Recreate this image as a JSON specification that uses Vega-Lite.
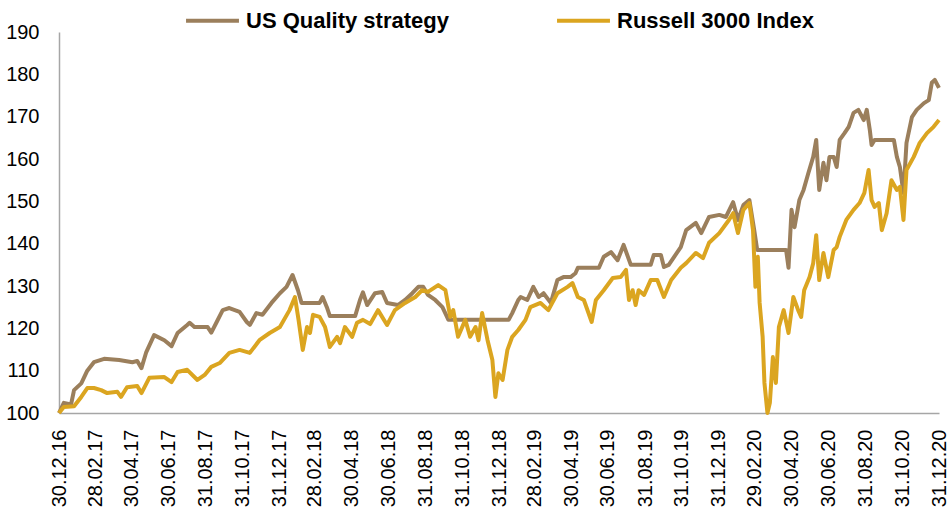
{
  "$schema": "https://vega.github.io/schema/vega-lite/v6.json",
  "width": 880,
  "height": 381,
  "autosize": {"type": "none"},
  "padding": {"left": 59, "top": 32, "right": 8, "bottom": 107},
  "background": "white",
  "config": {"view": {"stroke": null}},
  "datasets": {
    "q": [
      {"date":"2016-12-30","value":100},{"date":"2017-01-07","value":102.4},{"date":"2017-01-19","value":102.0},{"date":"2017-01-24","value":105.4},{"date":"2017-02-05","value":107},{"date":"2017-02-15","value":110},{"date":"2017-02-26","value":112},{"date":"2017-03-15","value":112.8},{"date":"2017-04-09","value":112.5},{"date":"2017-05-01","value":112},{"date":"2017-05-09","value":112.3},{"date":"2017-05-16","value":110.6},{"date":"2017-05-24","value":114.4},{"date":"2017-06-06","value":118.4},{"date":"2017-06-23","value":117.2},{"date":"2017-07-05","value":115.8},{"date":"2017-07-15","value":118.9},{"date":"2017-07-31","value":120.8},{"date":"2017-08-04","value":121.3},{"date":"2017-08-12","value":120.3},{"date":"2017-09-03","value":120.3},{"date":"2017-09-09","value":119},{"date":"2017-09-18","value":121.5},{"date":"2017-09-28","value":124.3},{"date":"2017-10-09","value":124.8},{"date":"2017-10-26","value":123.9},{"date":"2017-11-07","value":121.5},{"date":"2017-11-12","value":120.8},{"date":"2017-11-23","value":123.6},{"date":"2017-12-03","value":123.2},{"date":"2017-12-18","value":126},{"date":"2018-01-01","value":128.3},{"date":"2018-01-12","value":129.8},{"date":"2018-01-22","value":132.6},{"date":"2018-01-31","value":129},{"date":"2018-02-06","value":126},{"date":"2018-03-08","value":126},{"date":"2018-03-13","value":127.4},{"date":"2018-03-20","value":125},{"date":"2018-03-25","value":122.9},{"date":"2018-05-06","value":122.9},{"date":"2018-05-14","value":126.7},{"date":"2018-05-19","value":128.5},{"date":"2018-05-26","value":125.5},{"date":"2018-06-08","value":128.3},{"date":"2018-06-20","value":128.6},{"date":"2018-06-28","value":126},{"date":"2018-07-16","value":125.5},{"date":"2018-07-28","value":126.7},{"date":"2018-08-09","value":128.3},{"date":"2018-08-19","value":129.8},{"date":"2018-08-27","value":129.8},{"date":"2018-09-04","value":127.9},{"date":"2018-09-16","value":126.7},{"date":"2018-09-28","value":125},{"date":"2018-10-08","value":122},{"date":"2019-01-16","value":122},{"date":"2019-01-22","value":123.6},{"date":"2019-02-01","value":126.7},{"date":"2019-02-05","value":127.4},{"date":"2019-02-16","value":126.7},{"date":"2019-02-26","value":129.8},{"date":"2019-03-07","value":127.4},{"date":"2019-03-15","value":128.3},{"date":"2019-03-27","value":126},{"date":"2019-04-07","value":131.4},{"date":"2019-04-17","value":132.1},{"date":"2019-04-29","value":132.1},{"date":"2019-05-07","value":133},{"date":"2019-05-11","value":134.3},{"date":"2019-06-15","value":134.3},{"date":"2019-06-23","value":136.9},{"date":"2019-07-05","value":138},{"date":"2019-07-16","value":136.1},{"date":"2019-07-26","value":139.7},{"date":"2019-08-07","value":135},{"date":"2019-09-09","value":135},{"date":"2019-09-14","value":137.3},{"date":"2019-09-26","value":137.3},{"date":"2019-10-01","value":134.5},{"date":"2019-10-09","value":135},{"date":"2019-10-18","value":136.9},{"date":"2019-10-29","value":139.2},{"date":"2019-11-07","value":143.2},{"date":"2019-11-23","value":144.9},{"date":"2019-12-02","value":142.5},{"date":"2019-12-15","value":146.3},{"date":"2020-01-01","value":146.8},{"date":"2020-01-12","value":146.3},{"date":"2020-01-24","value":149.8},{"date":"2020-02-01","value":145.6},{"date":"2020-02-10","value":149.1},{"date":"2020-02-20","value":150.3},{"date":"2020-02-28","value":143.2},{"date":"2020-03-04","value":138.5},{"date":"2020-04-21","value":138.5},{"date":"2020-04-25","value":134.3},{"date":"2020-04-30","value":148},{"date":"2020-05-05","value":143.9},{"date":"2020-05-13","value":150.3},{"date":"2020-05-20","value":152.7},{"date":"2020-05-28","value":156.7},{"date":"2020-06-05","value":160.5},{"date":"2020-06-10","value":164.5},{"date":"2020-06-15","value":152.7},{"date":"2020-06-22","value":159.1},{"date":"2020-06-27","value":155},{"date":"2020-07-02","value":160.5},{"date":"2020-07-09","value":160.5},{"date":"2020-07-14","value":158.1},{"date":"2020-07-19","value":164.5},{"date":"2020-07-27","value":166.1},{"date":"2020-08-03","value":167.6},{"date":"2020-08-11","value":170.9},{"date":"2020-08-19","value":171.6},{"date":"2020-08-28","value":169.2},{"date":"2020-09-02","value":171.6},{"date":"2020-09-07","value":166.9},{"date":"2020-09-10","value":163.3},{"date":"2020-09-15","value":164.5},{"date":"2020-10-17","value":164.5},{"date":"2020-10-22","value":160.5},{"date":"2020-10-27","value":158.1},{"date":"2020-11-02","value":152},{"date":"2020-11-07","value":163.8},{"date":"2020-11-16","value":169.9},{"date":"2020-11-24","value":171.6},{"date":"2020-12-06","value":173.2},{"date":"2020-12-14","value":173.9},{"date":"2020-12-19","value":178},{"date":"2020-12-24","value":178.7},{"date":"2020-12-31","value":176.8}
    ],
    "r": [
      {"date":"2016-12-30","value":100},{"date":"2017-01-07","value":101.4},{"date":"2017-01-24","value":101.6},{"date":"2017-02-05","value":103.8},{"date":"2017-02-15","value":105.9},{"date":"2017-02-26","value":105.9},{"date":"2017-03-10","value":105.4},{"date":"2017-03-20","value":104.7},{"date":"2017-04-06","value":105},{"date":"2017-04-12","value":103.8},{"date":"2017-04-22","value":106.1},{"date":"2017-05-09","value":106.4},{"date":"2017-05-16","value":104.7},{"date":"2017-05-29","value":108.3},{"date":"2017-06-23","value":108.5},{"date":"2017-07-05","value":107.3},{"date":"2017-07-15","value":109.7},{"date":"2017-07-31","value":110.2},{"date":"2017-08-17","value":107.8},{"date":"2017-08-29","value":109},{"date":"2017-09-09","value":110.9},{"date":"2017-09-23","value":111.8},{"date":"2017-10-09","value":114.2},{"date":"2017-10-26","value":114.9},{"date":"2017-11-12","value":114.2},{"date":"2017-11-28","value":117.2},{"date":"2017-12-15","value":118.9},{"date":"2018-01-01","value":120.3},{"date":"2018-01-17","value":124.3},{"date":"2018-01-26","value":127.4},{"date":"2018-02-01","value":122},{"date":"2018-02-08","value":114.9},{"date":"2018-02-15","value":120.3},{"date":"2018-02-20","value":118.9},{"date":"2018-02-25","value":123.2},{"date":"2018-03-08","value":122.7},{"date":"2018-03-17","value":120.3},{"date":"2018-03-25","value":115.6},{"date":"2018-04-06","value":118},{"date":"2018-04-11","value":116.5},{"date":"2018-04-19","value":120.3},{"date":"2018-05-01","value":118},{"date":"2018-05-09","value":121.3},{"date":"2018-05-19","value":122},{"date":"2018-05-31","value":121},{"date":"2018-06-13","value":124.3},{"date":"2018-06-28","value":120.8},{"date":"2018-07-11","value":124.3},{"date":"2018-07-28","value":126},{"date":"2018-08-14","value":127.4},{"date":"2018-08-25","value":129},{"date":"2018-09-04","value":128.6},{"date":"2018-09-21","value":130.2},{"date":"2018-10-03","value":129},{"date":"2018-10-11","value":122.7},{"date":"2018-10-16","value":124.3},{"date":"2018-10-24","value":118},{"date":"2018-11-05","value":122},{"date":"2018-11-13","value":118},{"date":"2018-11-22","value":120.3},{"date":"2018-11-27","value":117.2},{"date":"2018-12-03","value":123.6},{"date":"2018-12-12","value":117.2},{"date":"2018-12-20","value":112.5},{"date":"2018-12-25","value":103.8},{"date":"2018-12-30","value":109.4},{"date":"2019-01-06","value":107.8},{"date":"2019-01-14","value":114.9},{"date":"2019-01-22","value":118},{"date":"2019-02-01","value":119.6},{"date":"2019-02-13","value":122},{"date":"2019-02-21","value":125},{"date":"2019-03-10","value":126},{"date":"2019-03-23","value":124.3},{"date":"2019-04-07","value":128.3},{"date":"2019-04-24","value":129.8},{"date":"2019-05-02","value":130.7},{"date":"2019-05-11","value":127.4},{"date":"2019-05-21","value":126.7},{"date":"2019-06-03","value":121.5},{"date":"2019-06-10","value":126.7},{"date":"2019-06-23","value":129},{"date":"2019-07-08","value":131.9},{"date":"2019-07-21","value":132.1},{"date":"2019-07-30","value":133.8},{"date":"2019-08-04","value":126.7},{"date":"2019-08-10","value":129},{"date":"2019-08-15","value":125.5},{"date":"2019-08-20","value":129},{"date":"2019-08-29","value":127.9},{"date":"2019-09-09","value":131.4},{"date":"2019-09-20","value":131.4},{"date":"2019-10-01","value":127.4},{"date":"2019-10-13","value":131.4},{"date":"2019-10-29","value":134.3},{"date":"2019-11-07","value":135.4},{"date":"2019-11-23","value":137.8},{"date":"2019-12-05","value":136.6},{"date":"2019-12-15","value":140.2},{"date":"2020-01-01","value":142.5},{"date":"2020-01-17","value":145.6},{"date":"2020-01-24","value":147.2},{"date":"2020-02-01","value":142.5},{"date":"2020-02-10","value":148},{"date":"2020-02-20","value":149.6},{"date":"2020-02-26","value":143.2},{"date":"2020-03-01","value":129.8},{"date":"2020-03-05","value":136.9},{"date":"2020-03-08","value":126},{"date":"2020-03-13","value":118},{"date":"2020-03-16","value":107.1},{"date":"2020-03-21","value":100},{"date":"2020-03-25","value":102.4},{"date":"2020-03-30","value":113.2},{"date":"2020-04-04","value":107.1},{"date":"2020-04-09","value":120.3},{"date":"2020-04-17","value":124.3},{"date":"2020-04-25","value":118.9},{"date":"2020-05-03","value":127.4},{"date":"2020-05-11","value":124.3},{"date":"2020-05-16","value":122.7},{"date":"2020-05-21","value":129},{"date":"2020-05-30","value":132.1},{"date":"2020-06-05","value":135.4},{"date":"2020-06-10","value":142},{"date":"2020-06-15","value":131.4},{"date":"2020-06-22","value":137.8},{"date":"2020-06-30","value":132.1},{"date":"2020-07-09","value":138.5},{"date":"2020-07-14","value":139.2},{"date":"2020-07-19","value":141.6},{"date":"2020-07-30","value":145.6},{"date":"2020-08-11","value":148},{"date":"2020-08-21","value":149.6},{"date":"2020-08-29","value":152},{"date":"2020-09-05","value":157.4},{"date":"2020-09-10","value":150.3},{"date":"2020-09-15","value":148.7},{"date":"2020-09-22","value":149.6},{"date":"2020-09-27","value":143.2},{"date":"2020-10-05","value":147.2},{"date":"2020-10-13","value":155},{"date":"2020-10-22","value":152.7},{"date":"2020-10-27","value":153.4},{"date":"2020-11-02","value":145.6},{"date":"2020-11-07","value":157.4},{"date":"2020-11-19","value":160.5},{"date":"2020-11-29","value":163.8},{"date":"2020-12-11","value":166.1},{"date":"2020-12-22","value":167.6},{"date":"2020-12-31","value":169.2}
    ]
  },
  "encoding": {
    "x": {
      "field": "date", "type": "temporal",
      "scale": {"domain": [{"year": 2016, "month": 12, "date": 30}, {"year": 2020, "month": 12, "date": 31}]},
      "axis": {
        "title": null, "format": "%d.%m.%y", "labelAngle": -90, "labelAlign": "right", "labelBaseline": "middle",
        "labelFlush": false, "labelOverlap": false, "labelBound": false,
        "ticks": false, "grid": false, "domainColor": "#A6A6A6", "domainWidth": 1.5,
        "labelFont": "Liberation Sans", "labelFontSize": 20, "labelColor": "#000000", "labelPadding": 16,
        "values": [
          {"year": 2016, "month": 12, "date": 30}, {"year": 2017, "month": 2, "date": 28}, {"year": 2017, "month": 4, "date": 30},
          {"year": 2017, "month": 6, "date": 30}, {"year": 2017, "month": 8, "date": 31}, {"year": 2017, "month": 10, "date": 31},
          {"year": 2017, "month": 12, "date": 31}, {"year": 2018, "month": 2, "date": 28}, {"year": 2018, "month": 4, "date": 30},
          {"year": 2018, "month": 6, "date": 30}, {"year": 2018, "month": 8, "date": 31}, {"year": 2018, "month": 10, "date": 31},
          {"year": 2018, "month": 12, "date": 31}, {"year": 2019, "month": 2, "date": 28}, {"year": 2019, "month": 4, "date": 30},
          {"year": 2019, "month": 6, "date": 30}, {"year": 2019, "month": 8, "date": 31}, {"year": 2019, "month": 10, "date": 31},
          {"year": 2019, "month": 12, "date": 31}, {"year": 2020, "month": 2, "date": 29}, {"year": 2020, "month": 4, "date": 30},
          {"year": 2020, "month": 6, "date": 30}, {"year": 2020, "month": 8, "date": 31}, {"year": 2020, "month": 10, "date": 31},
          {"year": 2020, "month": 12, "date": 31}
        ]
      }
    },
    "y": {
      "field": "value", "type": "quantitative",
      "scale": {"domain": [100, 190], "nice": false, "zero": false},
      "axis": {
        "title": null, "values": [100, 110, 120, 130, 140, 150, 160, 170, 180, 190],
        "ticks": false, "grid": false, "domainColor": "#A6A6A6", "domainWidth": 1.5,
        "labelFont": "Liberation Sans", "labelFontSize": 20, "labelColor": "#000000", "labelPadding": 20
      }
    },
    "color": {
      "field": "series", "type": "nominal",
      "scale": {"domain": ["US Quality strategy", "Russell 3000 Index"], "range": ["#9B7F5C", "#DBA520"]},
      "legend": {
        "title": null, "orient": "none", "legendX": 125, "legendY": -40, "direction": "horizontal",
        "symbolType": "stroke", "symbolSize": 2800, "symbolStrokeWidth": 4,
        "labelFont": "Liberation Sans", "labelFontSize": 22, "labelFontWeight": "bold", "labelColor": "#000000",
        "labelOffset": 5, "columnPadding": 100, "labelLimit": 400
      }
    }
  },
  "layer": [
    {
      "data": {"name": "q"},
      "transform": [{"calculate": "'US Quality strategy'", "as": "series"}],
      "mark": {"type": "line", "strokeWidth": 4, "strokeJoin": "round"}
    },
    {
      "data": {"name": "r"},
      "transform": [{"calculate": "'Russell 3000 Index'", "as": "series"}],
      "mark": {"type": "line", "strokeWidth": 4, "strokeJoin": "round"}
    }
  ]
}
